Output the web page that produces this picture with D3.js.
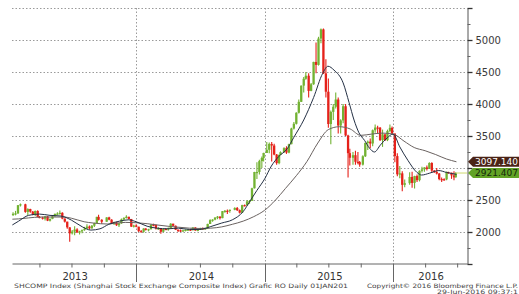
<!DOCTYPE html>
<html>
<head>
<meta charset="utf-8">
<script src="https://cdn.jsdelivr.net/npm/d3@7"></script>
<style>
  body { margin: 0; background: #fff; }
  svg { display: block; }
  text { font-family: "DejaVu Sans", sans-serif; }
</style>
</head>
<body>
<div id="chart"></div>
<script>
// weekly bars (week ending date), open = previous close
const weekEnds = [
  '2013-01-18','2013-01-25','2013-02-01','2013-02-08','2013-02-22','2013-03-01','2013-03-08','2013-03-15','2013-03-22','2013-03-29',
  '2013-04-03','2013-04-12','2013-04-19','2013-04-26','2013-05-03','2013-05-10','2013-05-17','2013-05-24','2013-05-31','2013-06-07',
  '2013-06-14','2013-06-21','2013-06-28','2013-07-05','2013-07-12','2013-07-19','2013-07-26','2013-08-02','2013-08-09','2013-08-16',
  '2013-08-23','2013-08-30','2013-09-06','2013-09-13','2013-09-18','2013-09-27','2013-10-11','2013-10-18','2013-10-25','2013-11-01',
  '2013-11-08','2013-11-15','2013-11-22','2013-11-29','2013-12-06','2013-12-13','2013-12-20','2013-12-27',
  '2014-01-03','2014-01-10','2014-01-17','2014-01-24','2014-01-30','2014-02-07','2014-02-14','2014-02-21','2014-02-28','2014-03-07',
  '2014-03-14','2014-03-21','2014-03-28','2014-04-04','2014-04-11','2014-04-18','2014-04-25','2014-05-02','2014-05-09','2014-05-16',
  '2014-05-23','2014-05-30','2014-06-06','2014-06-13','2014-06-20','2014-06-27','2014-07-04','2014-07-11','2014-07-18','2014-07-25',
  '2014-08-01','2014-08-08','2014-08-15','2014-08-22','2014-08-29','2014-09-05','2014-09-12','2014-09-19','2014-09-26','2014-10-10',
  '2014-10-17','2014-10-24','2014-10-31','2014-11-07','2014-11-14','2014-11-21','2014-11-28','2014-12-05','2014-12-12','2014-12-19',
  '2014-12-26','2014-12-31',
  '2015-01-09','2015-01-16','2015-01-23','2015-01-30','2015-02-06','2015-02-13','2015-02-17','2015-02-27','2015-03-06','2015-03-13',
  '2015-03-20','2015-03-27','2015-04-03','2015-04-10','2015-04-17','2015-04-24','2015-04-30','2015-05-08','2015-05-15','2015-05-22',
  '2015-05-29','2015-06-05','2015-06-12','2015-06-19','2015-06-26','2015-07-03','2015-07-10','2015-07-17','2015-07-24','2015-07-31',
  '2015-08-07','2015-08-14','2015-08-21','2015-08-28','2015-09-02','2015-09-11','2015-09-18','2015-09-25','2015-09-30','2015-10-09',
  '2015-10-16','2015-10-23','2015-10-30','2015-11-06','2015-11-13','2015-11-20','2015-11-27','2015-12-04','2015-12-11','2015-12-18',
  '2015-12-25','2015-12-31',
  '2016-01-08','2016-01-15','2016-01-22','2016-01-29','2016-02-05','2016-02-19','2016-02-26','2016-03-04','2016-03-11','2016-03-18',
  '2016-03-25','2016-04-01','2016-04-08','2016-04-15','2016-04-22','2016-04-29','2016-05-06','2016-05-13','2016-05-20','2016-05-27',
  '2016-06-03','2016-06-08','2016-06-17','2016-06-24','2016-06-29'
];
const firstOpen = 2270;
const closes = [
  2284,2292,2419,2433,2314,2359,2318,2278,2328,2236,2225,2206,2244,2177,2205,2247,2283,2288,2300,2210,
  2162,2073,1979,2007,2039,1992,2010,2029,2052,2085,2057,2098,2139,2236,2191,2160,2228,2193,2133,2149,
  2106,2135,2197,2220,2238,2204,2085,2101,
  2083,2013,2004,2054,2033,2044,2115,2113,2056,2057,2004,2047,2042,2058,2130,2097,2036,2026,2011,2026,
  2034,2039,2029,2070,2024,2036,2059,2047,2059,2126,2185,2194,2226,2240,2217,2326,2331,2329,2347,2374,
  2341,2302,2420,2418,2478,2487,2683,2938,2938,3108,3157,3235,
  3285,3376,3351,3210,3076,3204,3247,3310,3241,3372,3617,3691,3863,4034,4287,4394,4442,4205,4308,4657,
  4611,5023,5166,4478,4192,3687,3877,3957,4070,3664,3744,3965,3508,3232,3160,3200,3097,3092,3053,3183,
  3391,3412,3383,3590,3632,3630,3436,3525,3435,3578,3627,3539,
  3186,2901,2916,2737,2763,2860,2767,2874,2810,2955,2979,3009,2985,3078,2959,2938,2913,2827,2825,2822,
  2938,2927,2885,2854,2921.4
];
const highs = [
  2310,2330,2420,2445,2440,2370,2365,2330,2335,2340,2250,2240,2250,2250,2210,2255,2290,2310,2335,2310,
  2210,2160,2070,2030,2090,2060,2020,2040,2080,2120,2100,2110,2145,2240,2270,2200,2230,2240,2200,2160,
  2160,2140,2210,2230,2260,2240,2200,2115,
  2120,2080,2030,2060,2060,2050,2120,2130,2110,2075,2060,2050,2060,2070,2135,2130,2100,2040,2040,2035,
  2040,2045,2045,2075,2075,2045,2065,2070,2065,2130,2200,2200,2230,2250,2245,2330,2345,2350,2350,2385,
  2390,2350,2425,2430,2500,2500,2690,2940,3090,3130,3180,3240,
  3405,3400,3406,3380,3220,3210,3260,3325,3340,3380,3630,3720,3870,4070,4290,4420,4500,4480,4330,4660,
  4960,5050,5178,5180,4700,4400,3900,4000,4180,4100,3760,4000,4000,3520,3300,3250,3270,3250,3110,3200,
  3400,3430,3460,3600,3680,3660,3640,3600,3530,3600,3680,3650,
  3540,3230,3030,2950,2820,2935,2940,2880,2900,2965,3020,3010,3040,3090,3090,2970,3000,2920,2850,2840,
  2945,2940,2925,2950,2935
];
const lows = [
  2250,2260,2280,2400,2300,2260,2300,2260,2250,2230,2215,2195,2180,2170,2165,2200,2240,2270,2270,2200,
  2150,2050,1849,1960,1950,1990,1960,1980,2020,2050,2040,2050,2080,2140,2180,2130,2160,2185,2130,2110,
  2095,2080,2130,2180,2210,2195,2080,2070,
  2075,2000,1995,1990,2025,2010,2040,2090,2040,2035,1974,1995,2030,2020,2055,2090,2030,2000,2000,2005,
  2010,2020,2015,2025,2020,2010,2030,2040,2035,2050,2130,2160,2185,2200,2195,2215,2300,2280,2300,2340,
  2330,2290,2295,2400,2410,2440,2490,2680,2830,2900,3000,3100,
  3240,3230,3100,3200,3050,3060,3200,3240,3220,3230,3370,3600,3680,3850,4030,4180,4380,4100,4200,4300,
  4480,4600,4950,4470,4100,3630,3373,3750,3930,3540,3540,3700,3500,2850,3040,3050,3050,3060,3020,3040,
  3170,3280,3310,3340,3550,3540,3420,3330,3420,3420,3560,3530,
  3090,2870,2840,2638,2700,2740,2690,2680,2780,2790,2930,2940,2960,2990,2930,2920,2900,2810,2780,2800,
  2810,2910,2830,2810,2850
];

// moving averages
const fastMaDates = [
  '2013-01-14','2013-02-01','2013-03-01','2013-04-01','2013-05-01','2013-06-01','2013-07-01','2013-08-01','2013-08-25','2013-09-20',
  '2013-10-15','2013-11-15','2013-12-10','2014-01-01','2014-02-01','2014-03-01','2014-04-01','2014-05-01','2014-06-01','2014-07-01',
  '2014-08-01','2014-09-01','2014-10-01','2014-11-01','2014-11-20','2014-12-10','2015-01-01','2015-01-20','2015-02-10','2015-03-06',
  '2015-03-25','2015-04-22','2015-05-20','2015-06-15','2015-06-30','2015-07-17','2015-08-12','2015-08-29','2015-09-12','2015-09-26',
  '2015-10-12','2015-10-26','2015-11-09','2015-11-26','2015-12-15','2016-01-01','2016-01-20','2016-02-12','2016-03-09','2016-03-22',
  '2016-04-14','2016-05-10','2016-06-01','2016-06-29'
];
const fastMaValues = [
  2110,2170,2260,2280,2260,2250,2185,2080,2030,2050,
  2120,2170,2190,2160,2090,2060,2050,2060,2040,2040,
  2085,2140,2190,2320,2480,2650,2830,3030,3180,3300,
  3480,3750,4100,4480,4590,4530,4330,4020,3750,3550,
  3430,3310,3250,3360,3470,3530,3330,3120,2930,2890,
  2920,2960,2930,2900
];
const slowMaDates = [
  '2013-01-14','2013-02-01','2013-03-01','2013-04-05','2013-06-10','2013-07-01','2013-08-06','2013-09-01','2013-10-11','2013-11-01',
  '2013-12-01','2014-01-01','2014-02-01','2014-03-01','2014-04-01','2014-05-01','2014-06-01','2014-07-01','2014-08-01','2014-09-01',
  '2014-10-01','2014-11-01','2014-12-01','2015-01-01','2015-02-01','2015-03-01','2015-04-01','2015-05-01','2015-06-01','2015-07-01',
  '2015-08-01','2015-09-01','2015-10-01','2015-11-01','2015-12-01','2016-01-01','2016-02-01','2016-03-01','2016-04-01','2016-05-01',
  '2016-06-01','2016-06-29'
];
const slowMaValues = [
  2200,2205,2220,2234,2234,2215,2160,2140,2125,2135,
  2150,2145,2130,2110,2090,2075,2060,2055,2060,2080,
  2120,2170,2240,2340,2500,2680,2880,3100,3390,3600,
  3645,3610,3510,3530,3545,3530,3420,3320,3270,3210,
  3140,3097.14
];

const yMajorTicks = [1500, 2000, 2500, 3000, 3500, 4000, 4500, 5000, 5500];
const yMinorTicks = [1750, 2250, 2750, 3250, 3750, 4250, 4750, 5250];
// 3000 sits under the price tags, so it carries no visible label
const yLabelTicks = [2000, 2500, 3500, 4000, 4500, 5000];
const gridValues = [2000, 2500, 3000, 3500, 4000, 4500, 5000, 5500];
const yearLabels = ['2013', '2014', '2015', '2016'];
const quarterTicks = [
  '2013-04-01','2013-07-01','2013-10-01','2014-04-01','2014-07-01','2014-10-01',
  '2015-04-01','2015-07-01','2015-10-01','2016-04-01','2016-07-01'
];
const tagValues = [3097.14, 2921.40];
const tagTexts = ['3097.140', '2921.407'];
const tagColors = ['#4a2316', '#62a326'];
const tagTextColors = ['#ffffff', '#14260a'];
const lastPrice = 2921.40;
const footLeft = 'SHCOMP Index (Shanghai Stock Exchange Composite Index) Grafic RO  Daily 01JAN201';
const footRight = 'Copyright\u00A9 2016 Bloomberg Finance L.P.';
const footStamp = '29-Jun-2016 09:37:1';

const chartWidth = 519;
const chartHeight = 294;
const plotLeft = 12, plotRight = 467, plotTop = 8, plotBottom = 263.5;

const parse = d3.timeParse('%Y-%m-%d');

let svg = d3.select('#chart').append('svg')
  .attr('width', chartWidth)
  .attr('height', chartHeight)
  .style('background', '#fff');

let x = d3.scaleTime()
  .domain([parse('2013-01-13'), parse('2016-07-29')])
  .range([plotLeft, plotRight]);

let y = d3.scaleLinear()
  .domain([1500, 5500])
  .range([264, plotTop]);

// horizontal dotted grid
svg.append('g').selectAll('line').data(gridValues)
  .enter().append('line')
    .attr('x1', plotLeft)
    .attr('x2', plotRight)
    .attr('y1', d => Math.round(y(d)) + 0.5)
    .attr('y2', d => Math.round(y(d)) + 0.5)
    .attr('stroke', '#9a9a9a')
    .attr('stroke-dasharray', '1.5,2');

// year separators
let yearStarts = yearLabels.map(d => parse(d + '-01-01'));
let sepYears = yearStarts.filter(d => x(d) > plotLeft + 2);

svg.append('g').selectAll('line').data(sepYears)
  .enter().append('line')
    .attr('x1', d => Math.round(x(d)) + 0.5)
    .attr('x2', d => Math.round(x(d)) + 0.5)
    .attr('y1', plotTop)
    .attr('y2', plotBottom)
    .attr('stroke', '#9a9a9a')
    .attr('stroke-dasharray', '1.5,2');

svg.append('g').selectAll('line').data(sepYears)
  .enter().append('line')
    .attr('x1', d => Math.round(x(d)) + 0.5)
    .attr('x2', d => Math.round(x(d)) + 0.5)
    .attr('y1', plotBottom)
    .attr('y2', 282)
    .attr('stroke', '#666');

// bottom axis with quarter ticks
let xAxis = d3.axisBottom(x)
  .tickValues(quarterTicks.map(parse).filter(d => x(d) < plotRight))
  .tickSize(4)
  .tickSizeOuter(0)
  .tickFormat('');

svg.append('g')
  .attr('transform', `translate(0,${plotBottom})`)
  .call(xAxis)
  .call(g => g.select('.domain').attr('stroke', '#666'))
  .call(g => g.selectAll('.tick line').attr('stroke', '#666'));

// year labels centred in the visible part of each year
let [d0, d1] = x.domain();
svg.append('g').selectAll('text').data(yearLabels)
  .enter().append('text')
    .attr('x', d => {
      let a = Math.max(x(parse(d + '-01-01')), x(d0));
      let b = Math.min(x(parse((+d + 1) + '-01-01')), x(d1));
      return (a + b) / 2 + 1;
    })
    .attr('y', 280)
    .attr('text-anchor', 'middle')
    .attr('font-size', 10)
    .attr('fill', '#333')
    .text(d => d);

// right axis
let yAxis = d3.axisRight(y)
  .tickValues(yMajorTicks)
  .tickSize(5)
  .tickSizeOuter(0)
  .tickPadding(3)
  .tickFormat(d => yLabelTicks.includes(d) ? d : '');

let yAxisG = svg.append('g')
  .attr('transform', `translate(${plotRight + 0.5},0)`)
  .call(yAxis);
yAxisG.select('.domain').attr('stroke', '#555');
yAxisG.selectAll('.tick line').attr('stroke', '#333').attr('stroke-width', 1.3);
yAxisG.selectAll('.tick text')
  .attr('font-family', '"DejaVu Sans", sans-serif')
  .attr('font-size', 10)
  .attr('fill', '#3a3a3a');

svg.append('g')
  .attr('transform', `translate(${plotRight + 0.5},0)`)
  .call(d3.axisRight(y).tickValues(yMinorTicks).tickSize(3).tickFormat(''))
  .call(g => g.select('.domain').remove())
  .call(g => g.selectAll('.tick line').attr('stroke', '#666'));

// candles
let bars = weekEnds.map((d, i) => {
  let open = i === 0 ? firstOpen : closes[i - 1];
  let close = closes[i];
  return {
    date: d3.timeDay.offset(parse(d), -2),
    open: open,
    close: close,
    high: Math.max(highs[i], open, close),
    low: Math.min(lows[i], open, close)
  };
});

const upColor = '#72b232';
const downColor = '#e5211a';
const bodyWidth = 2.3;

let candles = svg.append('g').selectAll('g').data(bars)
  .enter().append('g');

candles.append('line')
  .attr('x1', d => x(d.date))
  .attr('x2', d => x(d.date))
  .attr('y1', d => y(d.high))
  .attr('y2', d => y(d.low))
  .attr('stroke', d => d.close >= d.open ? upColor : downColor)
  .attr('stroke-width', 1.1);

candles.append('rect')
  .attr('x', d => x(d.date) - bodyWidth / 2)
  .attr('y', d => y(Math.max(d.open, d.close)))
  .attr('width', bodyWidth)
  .attr('height', d => Math.max(1.2, Math.abs(y(d.open) - y(d.close))))
  .attr('fill', d => d.close >= d.open ? upColor : downColor);

// moving averages
let maLine = d3.line()
  .x(d => x(d.date))
  .y(d => y(d.value))
  .curve(d3.curveMonotoneX);

let slowMa = slowMaDates.map((d, i) => ({date: parse(d), value: slowMaValues[i]}));
let fastMa = fastMaDates.map((d, i) => ({date: parse(d), value: fastMaValues[i]}));

svg.append('path')
  .datum(slowMa)
  .attr('d', maLine)
  .attr('fill', 'none')
  .attr('stroke', '#6a6260')
  .attr('stroke-width', 1);

svg.append('path')
  .datum(fastMa)
  .attr('d', maLine)
  .attr('fill', 'none')
  .attr('stroke', '#243044')
  .attr('stroke-width', 1);

// last price guide
let lastDate = bars[bars.length - 1].date;
svg.append('line')
  .attr('x1', x(lastDate))
  .attr('x2', plotRight)
  .attr('y1', y(lastPrice))
  .attr('y2', y(lastPrice))
  .attr('stroke', '#cfd96e')
  .attr('stroke-width', 1);

// price tags on the right
let tags = svg.append('g').selectAll('g').data(tagValues)
  .enter().append('g');

tags.append('path')
  .attr('d', d => {
    let cy = y(d);
    return `M${plotRight + 1},${cy} L${plotRight + 6},${cy - 5} L${chartWidth},${cy - 5} L${chartWidth},${cy + 5} L${plotRight + 6},${cy + 5} Z`;
  })
  .attr('fill', (d, i) => tagColors[i]);

tags.append('text')
  .attr('x', plotRight + 8)
  .attr('y', d => y(d) + 3.2)
  .attr('font-size', 9)
  .attr('fill', (d, i) => tagTextColors[i])
  .text((d, i) => tagTexts[i]);

// footer
svg.append('text')
  .attr('x', 14)
  .attr('y', 287.5)
  .attr('font-size', 6)
  .attr('fill', '#444')
  .attr('textLength', 334)
  .attr('lengthAdjust', 'spacingAndGlyphs')
  .text(footLeft);

svg.append('text')
  .attr('x', 367)
  .attr('y', 287.5)
  .attr('font-size', 6)
  .attr('fill', '#444')
  .attr('textLength', 151)
  .attr('lengthAdjust', 'spacingAndGlyphs')
  .text(footRight);

svg.append('text')
  .attr('x', 437)
  .attr('y', 293.5)
  .attr('font-size', 6)
  .attr('fill', '#444')
  .attr('textLength', 81)
  .attr('lengthAdjust', 'spacingAndGlyphs')
  .text(footStamp);
</script>
</body>
</html>
